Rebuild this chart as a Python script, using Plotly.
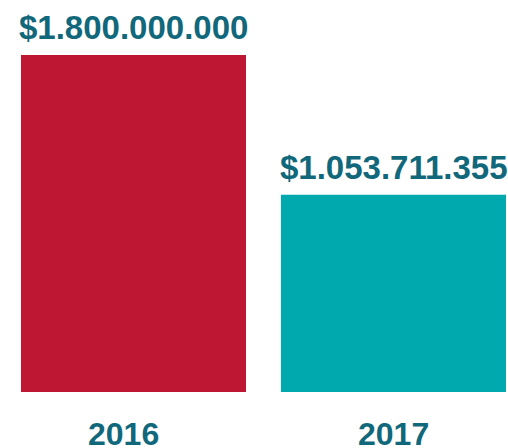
import plotly.graph_objects as go

years = ["2016", "2017"]
amounts = [1800000000, 1053711355]
amount_labels = ["$1.800.000.000", "$1.053.711.355"]
bar_colors = ["#BE1733", "#00A9AD"]
year_label_shift = [-10, 0]

TEXT_COLOR = "#11687A"
FONT = "Liberation Sans, Arial, sans-serif"

fig = go.Figure(
    go.Bar(
        x=years,
        y=amounts,
        marker=dict(color=bar_colors, line=dict(width=0)),
        width=0.8654,
        hoverinfo="skip",
    )
)

for i, (year, amount, label) in enumerate(zip(years, amounts, amount_labels)):
    # value above the bar
    fig.add_annotation(
        x=i, y=amount, xref="x", yref="y",
        text=f"<b>{label}</b>", showarrow=False,
        yanchor="bottom", yshift=7,
        font=dict(family=FONT, size=33, color=TEXT_COLOR),
    )
    # year label under the bar
    fig.add_annotation(
        x=i, y=0, xref="x", yref="paper",
        text=f"<b>{year}</b>", showarrow=False,
        yanchor="top", yshift=-22, xshift=year_label_shift[i],
        font=dict(family=FONT, size=32, color=TEXT_COLOR),
    )

fig.update_layout(
    width=508, height=448,
    margin=dict(l=0, r=0, t=0, b=56),
    paper_bgcolor="white", plot_bgcolor="white",
    showlegend=False,
    xaxis=dict(
        type="category",
        range=[-0.5135, 1.4404],
        showgrid=False, zeroline=False, showline=False, ticks="",
        showticklabels=False, automargin=False,
    ),
    yaxis=dict(
        range=[0, 2.0938e9],
        visible=False, showgrid=False, zeroline=False, automargin=False,
    ),
)

fig.write_html("out.html")
